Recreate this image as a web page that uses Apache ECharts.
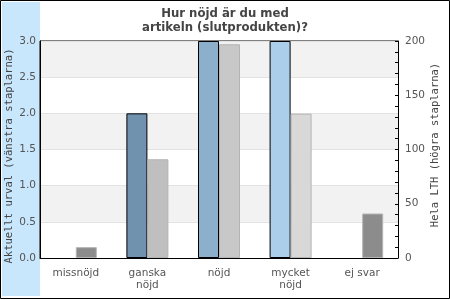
<!DOCTYPE html>
<html><head><meta charset="utf-8">
<script src="https://cdn.jsdelivr.net/npm/echarts@6/dist/echarts.min.js"></script>
<style>html,body{margin:0;padding:0;background:#fff}#c{width:450px;height:300px}</style>
</head><body><div id="c"></div>
<script>
const titleText = 'Hur nöjd är du med\nartikeln (slutprodukten)?';
const categories = ['missnöjd', 'ganska\nnöjd', 'nöjd', 'mycket\nnöjd', 'ej svar'];
const urvalValues = [0, 2, 3, 3, 0];
const lthValues = [10, 91, 197, 133, 41];
const urvalColors = ['#5a7d9a', '#7092ae', '#8cafcb', '#abcfea', '#5a7d9a'];
const lthColors = ['#8c8c8c', '#bfbfbf', '#c8c8c8', '#d8d8d8', '#8c8c8c'];
const leftTicks = [0, 0.5, 1, 1.5, 2, 2.5, 3];
const rightTicks = [0, 50, 100, 150, 200];
const leftName = 'Aktuellt urval (vänstra staplarna)';
const rightName = 'Hela LTH (högra staplarna)';

const chart = echarts.init(document.getElementById('c'), null, {renderer: 'canvas'});
const font = 'DejaVu Sans';
const mono = 'DejaVu Sans Mono';
chart.setOption({
  animation: false,
  backgroundColor: '#fff',
  graphic: [
    {type: 'rect', shape: {x: 0.5, y: 0.5, width: 449, height: 298}, style: {fill: '#fff', stroke: '#000', lineWidth: 1}, z: -10},
    {type: 'rect', shape: {x: 2, y: 2, width: 38, height: 294}, style: {fill: '#c8e6fc'}, z: -9},
    {type: 'text', x: 9, y: 156, rotation: Math.PI / 2, style: {text: leftName, font: '10.5px "DejaVu Sans Mono"', fill: '#444', align: 'center', verticalAlign: 'middle'}},
    {type: 'text', x: 435, y: 145, rotation: Math.PI / 2, style: {text: rightName, font: '10.5px "DejaVu Sans Mono"', fill: '#444', align: 'center', verticalAlign: 'middle'}}
  ],
  title: {
    text: titleText, left: 'center', top: 2,
    textStyle: {fontFamily: font, fontSize: 11.7, fontWeight: 'bold', color: '#444', lineHeight: 14}
  },
  grid: {left: 40, right: 52, top: 41, bottom: 42, containLabel: false, outerBoundsMode: 'none', show: true, borderColor: '#000', borderWidth: 1, backgroundColor: 'transparent'},
  xAxis: {
    type: 'category', data: categories,
    axisLine: {lineStyle: {color: '#000', width: 1}},
    axisTick: {show: false},
    axisLabel: {fontFamily: font, fontSize: 10.5, color: '#555', margin: 9, lineHeight: 12, interval: 0}
  },
  yAxis: [
    {
      type: 'value', min: leftTicks[0], max: leftTicks[leftTicks.length - 1], interval: 0.5,
      position: 'left',
      axisLine: {show: true, lineStyle: {color: '#000'}},
      axisTick: {show: false},
      axisLabel: {fontFamily: font, fontSize: 10.5, color: '#555', margin: 4, formatter: v => v.toFixed(1)},
      splitLine: {show: true, lineStyle: {color: '#e2e2e2', width: 1}},
      splitArea: {show: true, areaStyle: {color: ['#ffffff', '#f2f2f2']}}
    },
    {
      type: 'value', min: rightTicks[0], max: rightTicks[rightTicks.length - 1], interval: 50,
      position: 'right',
      axisLine: {show: true, lineStyle: {color: '#000'}},
      axisTick: {show: true, inside: true, length: 3, lineStyle: {color: '#000'}},
      minorTick: {show: true, splitNumber: 5, length: 3, lineStyle: {color: '#000'}},
      axisLabel: {fontFamily: font, fontSize: 10.5, color: '#555', margin: 7},
      splitLine: {show: false}
    }
  ],
  series: [
    {
      type: 'bar', yAxisIndex: 0, barWidth: 21, barGap: '0%',
      data: urvalValues.map((v, i) => ({value: v, itemStyle: {color: urvalColors[i], borderColor: '#000', borderWidth: 1, opacity: v > 0 ? 1 : 0}}))
    },
    {
      type: 'bar', yAxisIndex: 1, barWidth: 21, barGap: '0%',
      data: lthValues.map((v, i) => ({value: v, itemStyle: {color: lthColors[i], borderColor: '#b4b4b4', borderWidth: 1}}))
    }
  ]
});
</script></body></html>
